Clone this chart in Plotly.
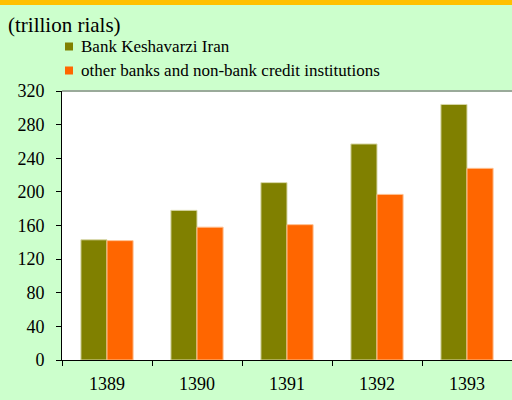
import plotly.graph_objects as go

years = ["1389", "1390", "1391", "1392", "1393"]
bki = [143, 178, 211, 257, 304]
others = [142, 158, 161, 197, 228]
series_names = ["Bank Keshavarzi Iran", "other banks and non-bank credit institutions"]
colors = ["#808000", "#FF6600"]
yticks = [0, 40, 80, 120, 160, 200, 240, 280, 320]

L, T, B, W, H = 62, 91, 40, 512, 400
PW = W - L
PH = H - T - B

def px(x):
    return (x - L) / PW

def py(y):
    return (H - B - y) / PH

FONT = "Liberation Serif"

fig = go.Figure()
fig.add_trace(go.Bar(x=years, y=bki, name=series_names[0], marker_color=colors[0],
                     marker_line=dict(color="#D8D8A8", width=1)))
fig.add_trace(go.Bar(x=years, y=others, name=series_names[1], marker_color=colors[1],
                     marker_line=dict(color="#FFC090", width=1)))

shapes = [
    dict(type="rect", xref="paper", yref="paper", x0=px(-5), x1=px(520), y0=py(-2), y1=py(5),
         fillcolor="#FFC000", line_width=0, layer="above"),
    dict(type="line", xref="paper", yref="paper", x0=0, x1=1, y0=1, y1=1,
         line=dict(color="#9AAA9A", width=2)),
]
annotations = [
    dict(text="(trillion rials)", xref="paper", yref="paper", x=px(6), y=py(25), xanchor="left",
         yanchor="middle", showarrow=False, font=dict(family=FONT, size=21, color="#000000")),
]
leg_y = [46.5, 70.5]
for i, name in enumerate(series_names):
    shapes.append(dict(type="rect", xref="paper", yref="paper", x0=px(65), x1=px(73),
                       y0=py(leg_y[i] + 4), y1=py(leg_y[i] - 4), fillcolor=colors[i], line_width=0))
    annotations.append(dict(text=name, xref="paper", yref="paper", x=px(79), y=py(leg_y[i]),
                            xanchor="left", yanchor="middle", showarrow=False,
                            font=dict(family=FONT, size=17, color="#000000")))

fig.update_layout(
    width=W, height=H,
    margin=dict(l=L, r=0, t=T, b=B, pad=0),
    paper_bgcolor="#CCFFCC",
    plot_bgcolor="#FFFFFF",
    barmode="group",
    bargap=0.42,
    bargroupgap=0,
    showlegend=False,
    shapes=shapes,
    annotations=annotations,
    font=dict(family=FONT, size=18, color="#000000"),
)
fig.update_xaxes(showgrid=False, showline=True, linecolor="#000000", linewidth=1,
                 ticks="outside", tickson="boundaries", ticklen=5, tickcolor="#000000",
                 ticklabelstandoff=7, tickfont=dict(family=FONT, size=18))
fig.update_yaxes(range=[0, 320], tickvals=yticks, showgrid=False, showline=True,
                 linecolor="#000000", linewidth=1, ticks="outside", ticklen=5,
                 tickcolor="#000000", ticklabelstandoff=8, zeroline=False,
                 tickfont=dict(family=FONT, size=18))

fig.write_html("out.html", config={"displayModeBar": False},
               post_script="document.body.style.margin='0';document.body.style.overflow='hidden';")
